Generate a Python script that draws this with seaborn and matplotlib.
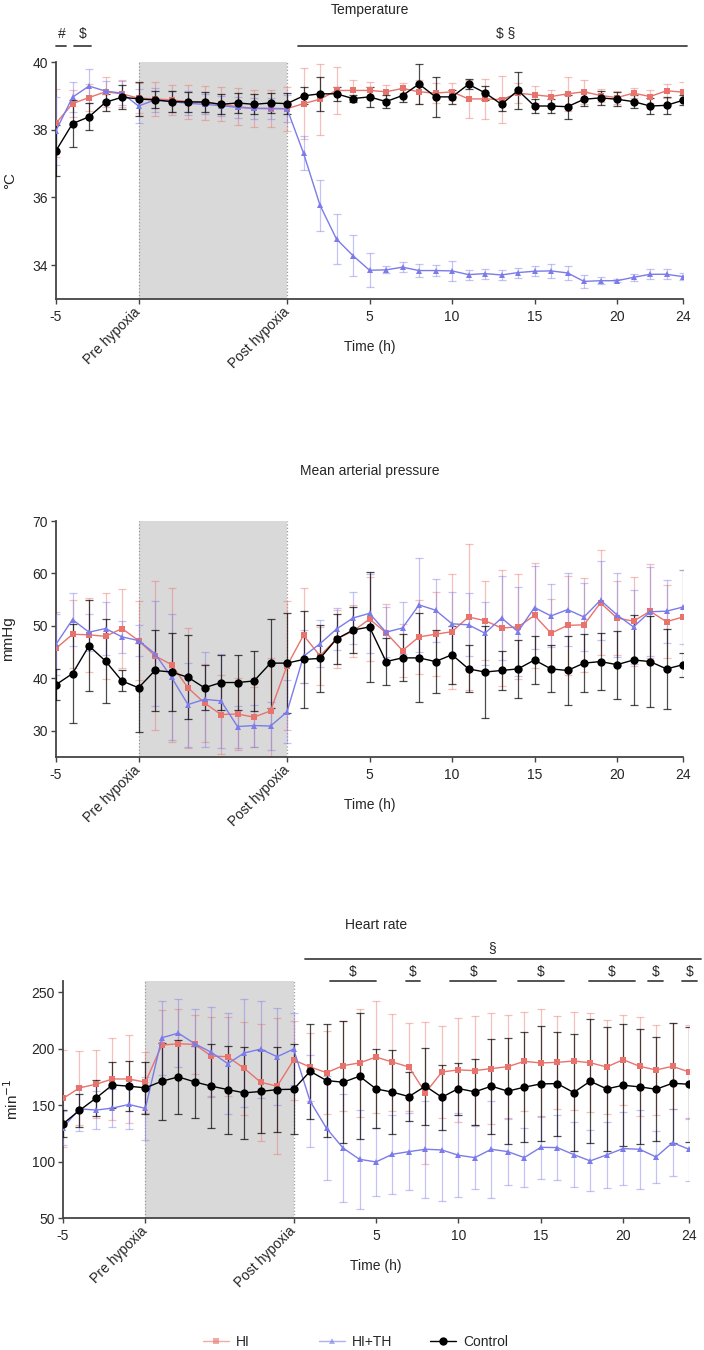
import numpy as np
import pandas as pd
import matplotlib
matplotlib.use('Agg')
import matplotlib.pyplot as plt
import matplotlib.transforms as mtransforms
from matplotlib.lines import Line2D
import seaborn as sns

sns.set_style('ticks')
plt.rcParams['font.family'] = ['Liberation Sans', 'DejaVu Sans']

# ---------------- data ----------------
# 39 measurement positions: -5..-1 h, Pre hypoxia, 8 hypoxia points, Post hypoxia, 1..24 h
x_pos = np.arange(-5, 34)
tick_pos = [-5, 0, 9, 14, 19, 24, 29, 33]
tick_labels = ['-5', 'Pre hypoxia', 'Post hypoxia', '5', '10', '15', '20', '24']
hyp_start, hyp_end = 0, 9
groups = ['HI', 'HI+TH', 'Control']

# Temperature (°C)
temp_hi = [38.19, 38.77, 38.95, 39.12, 39.06, 38.93,
           38.91, 38.88, 38.83, 38.80, 38.75, 38.68, 38.63, 38.62,
           38.62,
           38.77, 38.90, 39.16, 39.16, 39.16, 39.12, 39.22, 39.12, 39.08, 39.12, 38.91, 38.91,
           38.89, 39.08, 39.03, 38.98, 39.06, 39.12, 39.01, 38.95, 39.08, 38.98, 39.15, 39.11]
temp_hi_sd = [1.0, 0.4, 0.4, 0.45, 0.4, 0.45,
              0.5, 0.45, 0.5, 0.5, 0.5, 0.55, 0.55, 0.55,
              0.65,
              1.05, 1.05, 0.7, 0.3, 0.25, 0.2, 0.15, 0.35, 0.3, 0.25, 0.55, 0.6,
              0.7, 0.3, 0.25, 0.2, 0.5, 0.35, 0.2, 0.2, 0.15, 0.2, 0.2, 0.3]
temp_th = [37.97, 38.96, 39.29, 39.14, 39.08, 38.70,
           38.88, 38.83, 38.78, 38.75, 38.71, 38.66, 38.63, 38.63,
           38.62,
           37.31, 35.77, 34.77, 34.28, 33.85, 33.86, 33.94, 33.84, 33.84, 33.83, 33.72, 33.75,
           33.71, 33.78, 33.82, 33.83, 33.77, 33.52, 33.54, 33.54, 33.64, 33.73, 33.73, 33.66]
temp_th_sd = [1.0, 0.45, 0.5, 0.3, 0.35, 0.5,
              0.35, 0.3, 0.35, 0.3, 0.3, 0.3, 0.3, 0.3,
              0.4,
              0.5, 0.75, 0.75, 0.6, 0.5, 0.1, 0.15, 0.2, 0.15, 0.3, 0.15, 0.15,
              0.15, 0.15, 0.15, 0.2, 0.2, 0.2, 0.1, 0.05, 0.1, 0.15, 0.15, 0.1]
temp_ctrl = [37.38, 38.18, 38.38, 38.81, 38.96, 38.91,
             38.88, 38.83, 38.82, 38.82, 38.75, 38.79, 38.75, 38.79,
             38.77,
             39.00, 39.06, 39.06, 38.92, 38.97, 38.83, 39.01, 39.35, 38.97, 38.97, 39.34, 39.09,
             38.75, 39.16, 38.70, 38.70, 38.68, 38.90, 38.94, 38.90, 38.83, 38.70, 38.72, 38.87]
temp_ctrl_sd = [0.75, 0.7, 0.4, 0.25, 0.35, 0.5,
                0.25, 0.3, 0.3, 0.3, 0.3, 0.3, 0.3, 0.3,
                0.3,
                0.25, 0.5, 0.2, 0.1, 0.3, 0.2, 0.2, 0.6, 0.6, 0.2, 0.15, 0.2,
                0.2, 0.55, 0.2, 0.2, 0.35, 0.2, 0.2, 0.2, 0.2, 0.25, 0.25, 0.15]

# Mean arterial pressure (mmHg)
map_hi = [45.7, 48.4, 48.3, 48.0, 49.5, 47.2,
          44.3, 42.6, 38.2, 35.3, 33.1, 33.2, 32.6, 33.8,
          42.4,
          48.2, 44.3, 47.5, 49.0, 51.3, 48.7, 45.3, 47.9, 48.4, 48.9, 51.7, 51.0,
          49.6, 49.8, 52.0, 48.6, 50.1, 50.2, 54.4, 51.5, 50.9, 52.8, 50.8, 51.7]
map_hi_sd = [7, 6.5, 7, 8.2, 7.5, 7.6,
             14.2, 14.7, 11.4, 7.5, 7.5, 6.8, 5.7, 10,
             12.3,
             9, 5.5, 5.5, 5, 8, 5.5, 5, 7, 8, 11, 14, 7.5,
             11, 10, 10, 6.5, 9.5, 9, 10, 7, 8.5, 9, 7, 9]
map_th = [46.5, 51.2, 48.8, 49.5, 47.9, 47.2,
          44.7, 40.2, 35.0, 36.0, 35.7, 30.8, 31.0, 30.9,
          33.6,
          44.2, 46.6, 49.4, 51.5, 52.4, 48.8, 49.6, 54.0, 53.0, 50.4, 50.2, 48.6,
          51.5, 48.9, 53.5, 51.9, 53.1, 51.7, 54.9, 52.1, 49.8, 52.7, 52.8, 53.6]
map_th_sd = [5.8, 5, 3.5, 5, 3, 3,
             10, 12, 8, 9, 9, 4, 4, 4.5,
             6,
             5, 4.5, 4, 5, 7.5, 4.8, 5, 9, 6, 6, 6, 6,
             8, 8.5, 8, 6, 7, 6.5, 7.5, 8, 7, 8.5, 6, 7]
map_ctrl = [38.8, 40.9, 46.2, 43.3, 39.5, 38.2,
            41.5, 41.2, 40.2, 38.2, 39.2, 39.2, 39.5, 42.9,
            42.9,
            43.6, 43.8, 47.5, 49.2, 49.8, 43.2, 43.9, 43.9, 43.2, 44.5, 41.8, 41.2,
            41.5, 41.8, 43.5, 41.8, 41.5, 42.9, 43.2, 42.6, 43.5, 43.2, 41.8, 42.6]
map_ctrl_sd = [3, 9.5, 8.7, 8, 2, 8.5,
               7.8, 7.5, 8, 4.3, 5.2, 5.3, 5.7, 8.5,
               9.5,
               9.3, 6.4, 4.8, 4.4, 10.5, 4.5, 4.5, 8.5, 6, 5.5, 4.5, 8.8,
               3.8, 5.5, 4.5, 4.5, 6.5, 5.5, 5.5, 6.5, 8.6, 8.7, 7.6, 2.3]

# Heart rate (min-1)
hr_hi = [155.9, 165.3, 168.5, 173.2, 173.2, 170.3,
         203.2, 204.4, 203.8, 193.5, 192.9, 182.6, 170.3, 166.8,
         190.0,
         183.8, 178.8, 185.0, 187.4, 192.6, 188.2, 183.8, 160.9, 179.4, 181.2, 180.6, 182.4,
         184.1, 188.8, 187.4, 187.9, 189.1, 187.6, 183.8, 190.3, 184.4, 181.2, 184.4, 179.4]
hr_hi_sd = [43, 33, 30, 36, 39, 27,
            31, 31, 26, 35, 35, 41, 52, 60,
            35,
            30, 37, 40, 48, 50, 43, 39, 63, 41, 46, 48, 49,
            46, 44, 48, 41, 43, 44, 42, 40, 44, 40, 38, 42]
hr_th = [130.0, 146.8, 145.6, 147.4, 150.6, 147.1,
         209.7, 213.8, 204.4, 196.8, 186.8, 196.2, 199.7, 192.9,
         199.7,
         153.5, 129.4, 112.0, 102.0, 99.7, 106.5, 108.8, 110.9, 110.3, 105.6, 103.5, 110.9,
         108.8, 103.5, 112.6, 112.4, 106.2, 100.6, 105.9, 111.5, 110.9, 104.1, 116.8, 110.9]
hr_th_sd = [15, 20, 17, 17, 22, 28,
            33, 30, 31, 40, 45, 48, 43, 43,
            32,
            41, 46, 48, 44, 30, 35, 34, 43, 45, 37, 28, 43,
            30, 26, 28, 29, 29, 27, 29, 32, 35, 23, 30, 28]
hr_ctrl = [133.5, 145.3, 156.2, 167.9, 166.8, 165.3,
           171.2, 175.0, 170.6, 166.8, 163.8, 160.9, 162.1, 163.8,
           164.1,
           180.0, 171.8, 170.3, 175.6, 164.4, 161.5, 157.6, 166.8, 157.0, 164.7, 161.8, 166.8,
           162.4, 165.9, 168.8, 169.1, 161.2, 171.2, 164.4, 167.6, 166.2, 164.1, 169.4, 168.5]
hr_ctrl_sd = [12, 15, 16, 20, 22, 23,
              34, 33, 32, 37, 39, 41, 37, 38,
              40,
              42, 50, 54, 56, 35, 37, 22, 34, 29, 23, 29, 42,
              47, 49, 51, 46, 52, 55, 55, 54, 51, 46, 53, 51]

# significance bars: (start, end) in positions, label
temp_bars = [(-5.0, -4.4, '#'), (-3.9, -2.9, '$'), (9.67, 33.24, '$ §')]
hr_top_bar = (9.7, 33.7, '§')
hr_bars = [(11.2, 14.0), (15.8, 16.7), (18.5, 21.3), (22.6, 25.4), (26.9, 29.7), (30.5, 31.4), (32.6, 33.5)]

# ---------------- style ----------------
colors = {'HI': '#E8736C', 'HI+TH': '#7B7BEA', 'Control': '#000000'}
err_alpha = {'HI': 0.45, 'HI+TH': 0.45, 'Control': 0.7}
markers = {'HI': 's', 'HI+TH': '^', 'Control': 'o'}
msize = {'HI': 5.0, 'HI+TH': 5.0, 'Control': 6.0}
FS = 10

W, H = 704, 1350
fig = plt.figure(figsize=(W / 100, H / 100), dpi=100)


def make_ax(left, right, top, bottom):
    return fig.add_axes([left / W, 1 - bottom / H, (right - left) / W, (bottom - top) / H])


ax1 = make_ax(56, 683, 62, 299)
ax2 = make_ax(56, 683, 521, 757)
ax3 = make_ax(63, 689, 981, 1218)

panels = [
    (ax1, 'Temperature', '°C', (33, 40), [34, 36, 38, 40],
     {'HI': (temp_hi, temp_hi_sd), 'HI+TH': (temp_th, temp_th_sd), 'Control': (temp_ctrl, temp_ctrl_sd)},
     1.22, -0.062),
    (ax2, 'Mean arterial pressure', 'mmHg', (25, 70), [30, 40, 50, 60, 70],
     {'HI': (map_hi, map_hi_sd), 'HI+TH': (map_th, map_th_sd), 'Control': (map_ctrl, map_ctrl_sd)},
     1.211, -0.065),
    (ax3, 'Heart rate', r'min$^{-1}$', (50, 260), [50, 100, 150, 200, 250],
     {'HI': (hr_hi, hr_hi_sd), 'HI+TH': (hr_th, hr_th_sd), 'Control': (hr_ctrl, hr_ctrl_sd)},
     1.236, -0.067),
]

for ax, title, ylab, ylim, yticks, data, title_y, ylab_x in panels:
    ax.axvspan(hyp_start, hyp_end, color='#d9d9d9', zorder=0, lw=0)
    for xv in (hyp_start, hyp_end):
        ax.axvline(xv, color='#9a9a9a', ls=':', lw=0.9, zorder=0.5)
    for i, g in enumerate(groups):
        mean, sd = data[g]
        ax.errorbar(x_pos, mean, yerr=sd, fmt='none', ecolor=colors[g], alpha=err_alpha[g],
                    elinewidth=0.9, capsize=3.2, capthick=0.9, zorder=2 + i)
        df = pd.DataFrame({'x': x_pos, 'y': mean})
        sns.lineplot(data=df, x='x', y='y', ax=ax, color=colors[g], marker=markers[g],
                     markersize=msize[g], markeredgewidth=0, linewidth=1.0,
                     estimator=None, zorder=5 + i, legend=False)
    ax.set_xlim(-5, 33)
    ax.set_ylim(*ylim)
    ax.set_yticks(yticks)
    ax.set_xticks(tick_pos)
    ax.set_xticklabels(tick_labels)
    for lab in ax.get_xticklabels():
        if 'hypoxia' in lab.get_text():
            lab.set_rotation(45)
            lab.set_ha('right')
            lab.set_va('center')
            lab.set_rotation_mode('anchor')
    ax.tick_params(axis='both', labelsize=FS, length=3.5, width=1.0, color='#444444', direction='out')
    ax.tick_params(axis='x', pad=4.5)
    ax.tick_params(axis='y', pad=2.5)
    for s in ('top', 'right'):
        ax.spines[s].set_visible(False)
    for s in ('left', 'bottom'):
        ax.spines[s].set_color('#444444')
        ax.spines[s].set_linewidth(1.3)
    ax.set_xlabel('Time (h)', fontsize=FS)
    ax.set_ylabel(ylab, fontsize=FS + 1)
    ax.xaxis.set_label_coords(0.5, -0.173)
    ax.yaxis.set_label_coords(ylab_x, 0.5)
    ax.text(0.5, title_y, title, transform=ax.transAxes, ha='center', va='center', fontsize=FS)

# significance annotations
tr1 = mtransforms.blended_transform_factory(ax1.transData, ax1.transAxes)
for x0, x1, lab in temp_bars:
    ax1.plot([x0, x1], [1.0675, 1.0675], color='#444444', lw=1.3, transform=tr1, clip_on=False)
xc = {'#': -4.64, '$': -3.36, '$ §': 22.27}
for x0, x1, lab in temp_bars:
    ax1.text(xc[lab], 1.118, lab, transform=tr1, ha='center', va='center', fontsize=FS)

tr3 = mtransforms.blended_transform_factory(ax3.transData, ax3.transAxes)
x0, x1, lab = hr_top_bar
ax3.plot([x0, x1], [1.093, 1.093], color='#444444', lw=1.3, transform=tr3, clip_on=False)
ax3.text(21.05, 1.139, lab, transform=tr3, ha='center', va='center', fontsize=FS)
for x0, x1 in hr_bars:
    ax3.plot([x0, x1], [1.0, 1.0], color='#444444', lw=1.3, transform=tr3, clip_on=False)
    ax3.text((x0 + x1) / 2, 1.039, '$', transform=tr3, ha='center', va='center', fontsize=FS)

# legend (three entries placed along the bottom)
leg_x = {'HI': 203, 'HI+TH': 319, 'Control': 430}
for g in groups:
    h = Line2D([], [], color=colors[g], alpha=(0.6 if g != 'Control' else 1.0),
               marker=markers[g], markersize=msize[g], markeredgewidth=0, lw=1.0)
    leg = fig.legend([h], [g], loc='center left', bbox_to_anchor=(leg_x[g] / W, 1 - 1342 / H),
                     frameon=False, fontsize=FS, handlelength=1.9, handletextpad=0.5,
                     borderpad=0, borderaxespad=0)

fig.savefig('out.png', dpi=100)
